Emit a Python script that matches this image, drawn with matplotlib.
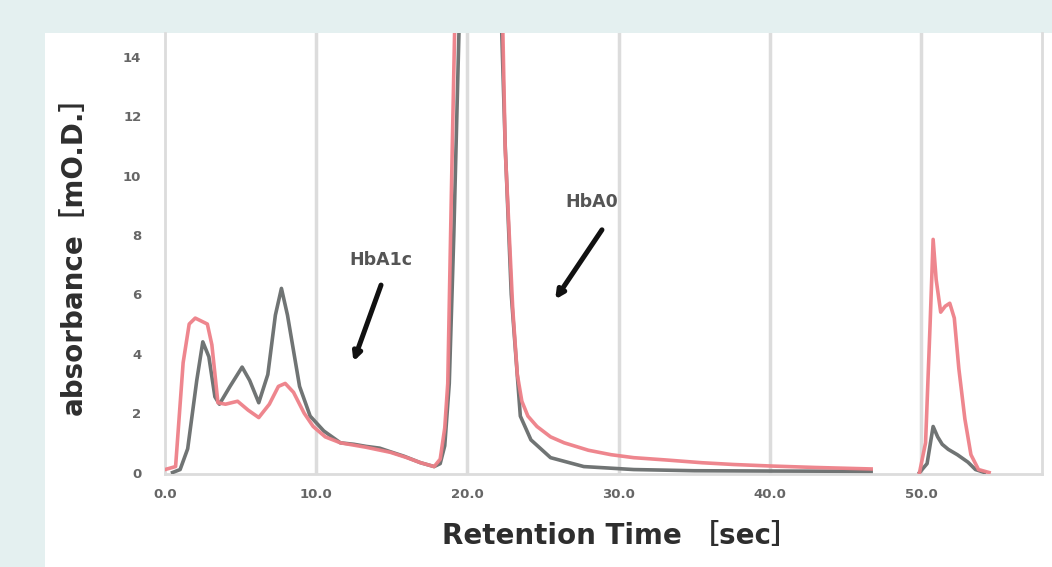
import matplotlib
matplotlib.use('Agg')

import numpy as np
import matplotlib.pyplot as plt
from matplotlib.patches import Rectangle

# grey trace (control), two segments joined by a nan gap
grey_x = [0.5, 1.0, 1.5, 2.1, 2.5, 2.9, 3.3, 3.6, 4.3, 5.1, 5.6, 6.2, 6.8, 7.3, 7.7, 8.1,
          8.9, 9.6, 10.5, 11.6, 12.5, 13.3, 14.2, 14.9, 15.8, 16.9, 17.8, 18.2, 18.5, 18.8,
          19.1, 19.4, 19.7, 20.2, 20.8, 21.5, 22.2, 22.5, 22.9, 23.5, 24.2, 25.5, 27.7,
          31.0, 35.0, 40.0, 46.7,
          np.nan,
          49.9, 50.4, 50.8, 51.1, 51.4, 51.8, 52.4, 53.1, 53.6, 54.2]
grey_y = [0.0, 0.1, 0.8, 3.1, 4.4, 3.9, 2.55, 2.3, 2.9, 3.55, 3.1, 2.35, 3.3, 5.3, 6.2, 5.3,
          2.9, 1.9, 1.4, 1.0, 0.95, 0.88, 0.82, 0.7, 0.55, 0.33, 0.2, 0.3, 0.9, 3.0,
          8.0, 14.0, 20.0, 32.0, 40.0, 32.0, 16.0, 11.0, 6.0, 1.9, 1.1, 0.5, 0.2,
          0.1, 0.06, 0.05, 0.04,
          np.nan,
          0.0, 0.3, 1.55, 1.2, 0.95, 0.78, 0.6, 0.35, 0.1, 0.0]

# red trace (sample)
red_x = [0.0, 0.7, 1.2, 1.6, 2.0, 2.8, 3.1, 3.5, 4.0, 4.8, 5.5, 6.2, 6.9, 7.5, 7.95, 8.5,
         9.2, 9.8, 10.6, 11.6, 13.3, 14.9, 16.0, 16.9, 17.8, 18.2, 18.5, 18.7, 19.0, 19.2,
         19.8, 20.8, 21.8, 22.3, 22.5, 23.0, 23.3, 23.6, 24.0, 24.6, 25.5, 26.4, 28.0,
         29.5, 31.0, 33.2, 35.5, 37.6, 40.0, 43.0, 46.7,
         np.nan,
         49.9, 50.3, 50.6, 50.8, 51.0, 51.3, 51.6, 51.9, 52.2, 52.5, 52.9, 53.3, 53.8, 54.5]
red_y = [0.1, 0.2, 3.7, 5.0, 5.2, 5.0, 4.3, 2.35, 2.3, 2.4, 2.1, 1.85, 2.3, 2.9, 3.0, 2.7,
         2.0, 1.55, 1.2, 1.0, 0.85, 0.68, 0.5, 0.33, 0.2, 0.45, 1.5, 3.0, 11.0, 16.0,
         30.0, 40.0, 30.0, 16.0, 10.9, 5.5, 3.3, 2.4, 1.9, 1.55, 1.2, 1.0, 0.75,
         0.6, 0.5, 0.42, 0.33, 0.27, 0.22, 0.17, 0.12,
         np.nan,
         0.0, 1.0, 5.0, 7.85, 6.5, 5.4, 5.6, 5.7, 5.2, 3.5, 1.8, 0.6, 0.1, 0.0]

x_ticks = [0, 10, 20, 30, 40, 50]
x_ticklabels = ['0.0', '10.0', '20.0', '30.0', '40.0', '50.0']
y_ticks = [0, 2, 4, 6, 8, 10, 12, 14]

W, H = 1052, 567
fig = plt.figure(figsize=(W / 100, H / 100), dpi=100, facecolor='#e4f0f0')
# white panel behind the axes
fig.patches.append(Rectangle((45 / W, 0), 1, 1 - 33 / H, transform=fig.transFigure,
                             facecolor='white', edgecolor='none', zorder=-10))

ax = fig.add_axes([165 / W, 1 - 474 / H, (1042 - 165) / W, (474 - 33) / H])
ax.set_facecolor('none')

grid_c = '#dcdcdc'
for xv in x_ticks[1:]:
    ax.axvline(xv, color=grid_c, lw=2.5, zorder=1)

ax.plot(grey_x, grey_y, color='#707474', lw=2.6, zorder=3)
ax.plot(red_x, red_y, color='#ee8088', lw=2.6, zorder=4, alpha=0.95)

ax.set_xlim(0, 58)
ax.set_ylim(-0.05, 14.8)

for side in ['left', 'bottom', 'right']:
    ax.spines[side].set_color(grid_c)
    ax.spines[side].set_linewidth(2)
ax.spines['top'].set_visible(False)

ax.set_xticks(x_ticks)
ax.set_xticklabels(x_ticklabels)
ax.set_yticks(y_ticks)
ax.tick_params(axis='both', length=0, labelsize=9.5, labelcolor='#666666')
ax.tick_params(axis='x', pad=10)
ax.tick_params(axis='y', pad=17)
for lab in ax.get_xticklabels() + ax.get_yticklabels():
    lab.set_fontweight('bold')

label_font = ['DejaVu Sans', 'Noto Sans CJK JP']
ax.set_ylabel('absorbance［mO.D.］', family=label_font, fontsize=20,
              fontweight='bold', color='#2e2e2e')
ax.yaxis.set_label_coords((88 - 165) / 877, (474 - 248) / 441)
ax.set_xlabel('Retention Time ［sec］', family=label_font, fontsize=20,
              fontweight='bold', color='#2e2e2e')
ax.xaxis.set_label_coords((620 - 165) / 877, (474 - 522) / 441)

# peak annotations
ax.text(14.3, 7.15, 'HbA1c', fontsize=12.5, fontweight='bold', color='#555555',
        ha='center', va='center')
ax.annotate('', xy=(12.4, 3.65), xytext=(14.35, 6.4),
            arrowprops=dict(arrowstyle='-|>', lw=3.6, color='#111111', mutation_scale=12))
ax.text(28.2, 9.1, 'HbA0', fontsize=12.5, fontweight='bold', color='#555555',
        ha='center', va='center')
ax.annotate('', xy=(25.7, 5.75), xytext=(29.0, 8.25),
            arrowprops=dict(arrowstyle='-|>', lw=3.6, color='#111111', mutation_scale=12))

fig.savefig('out.png', dpi=100, facecolor=fig.get_facecolor())
